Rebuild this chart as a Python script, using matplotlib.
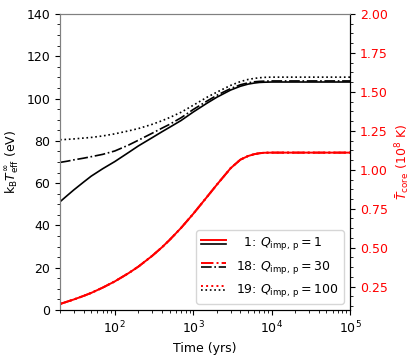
import matplotlib
matplotlib.use("Agg")
import matplotlib.pyplot as plt
from matplotlib.lines import Line2D
from matplotlib.legend_handler import HandlerBase
from matplotlib.ticker import AutoMinorLocator

# ---- data ----
time_yrs = [20, 25, 30, 40, 50, 70, 100, 150, 200, 300, 400, 500, 700, 1000,
            1500, 2000, 3000, 4000, 5000, 6000, 7000, 8000, 10000, 100000]
teff_1 = [51.2, 54.3, 56.8, 60.5, 63.3, 66.8, 70.2, 74.5, 77.6, 81.5, 84.3, 86.4,
          89.6, 93.6, 97.8, 100.6, 104.0, 105.8, 106.8, 107.3, 107.6, 107.7, 107.8, 107.8]
teff_18 = [69.8, 70.4, 71.0, 71.8, 72.5, 73.6, 75.2, 78.0, 80.3, 83.6, 86.0, 87.8,
           90.9, 94.8, 98.8, 101.5, 104.7, 106.5, 107.4, 107.9, 108.1, 108.2, 108.3, 108.3]
teff_19 = [80.5, 80.7, 80.9, 81.3, 81.6, 82.3, 83.3, 84.7, 85.8, 87.8, 89.5, 91.0,
           93.5, 96.8, 100.6, 103.0, 106.2, 108.0, 109.0, 109.5, 109.8, 110.0, 110.1, 110.1]
tcore_1 = [0.139, 0.155, 0.168, 0.191, 0.210, 0.244, 0.284, 0.337, 0.379, 0.448, 0.503,
           0.550, 0.627, 0.717, 0.826, 0.904, 1.010, 1.065, 1.088, 1.100, 1.106, 1.109, 1.110, 1.110]
tcore_18 = [0.139, 0.155, 0.168, 0.191, 0.210, 0.244, 0.284, 0.337, 0.379, 0.448, 0.503,
            0.550, 0.627, 0.717, 0.826, 0.904, 1.010, 1.065, 1.088, 1.100, 1.106, 1.109, 1.110, 1.110]
tcore_19 = [0.139, 0.155, 0.168, 0.191, 0.210, 0.244, 0.284, 0.337, 0.379, 0.448, 0.503,
            0.550, 0.627, 0.717, 0.826, 0.904, 1.010, 1.065, 1.088, 1.100, 1.106, 1.109, 1.110, 1.110]
labels = ["\u20071: $Q_{\\rm imp,\\,p}=1$",
          "18: $Q_{\\rm imp,\\,p}=30$",
          "19: $Q_{\\rm imp,\\,p}=100$"]


class HandlerPair(HandlerBase):
    def create_artists(self, legend, orig_handle, xdescent, ydescent, width,
                       height, fontsize, trans):
        artists = []
        offs = [height * 0.5 + 1.4, height * 0.5 - 1.4]
        for h, y in zip(orig_handle, offs):
            l = Line2D([-xdescent, width - xdescent], [y - ydescent] * 2,
                       color=h.get_color(), linestyle=h.get_linestyle(),
                       linewidth=h.get_linewidth())
            l.set_transform(trans)
            artists.append(l)
        return artists


fs = 9
fig = plt.figure(figsize=(4.15, 3.56), dpi=100)
ax = fig.add_axes([0.1446, 0.129, 0.8434 - 0.1446, 0.961 - 0.129])
ax2 = ax.twinx()

b1, = ax.plot(time_yrs, teff_1, color="black", ls="-", lw=1.2)
b18, = ax.plot(time_yrs, teff_18, color="black", ls="-.", lw=1.2)
b19, = ax.plot(time_yrs, teff_19, color="black", ls=":", lw=1.2)

r1, = ax2.plot(time_yrs, tcore_1, color="red", ls="-", lw=1.4)
r18, = ax2.plot(time_yrs, tcore_18, color="red", ls="-.", lw=1.4)
r19, = ax2.plot(time_yrs, tcore_19, color="red", ls=":", lw=1.4)

ax.set_xscale("log")
ax.set_xlim(20, 1e5)
ax.set_ylim(0, 140)
ax2.set_ylim(0.1, 2.0)
ax2.set_yticks([0.25, 0.5, 0.75, 1.0, 1.25, 1.5, 1.75, 2.0])
ax.yaxis.set_minor_locator(AutoMinorLocator(4))
ax2.yaxis.set_minor_locator(AutoMinorLocator(4))

ax.tick_params(labelsize=fs)
ax2.tick_params(labelsize=fs, colors="red", which="both")
ax2.tick_params(axis="y", which="both", color="black")

ax.set_xlabel("Time (yrs)", fontsize=fs)
ax.set_ylabel("k$_{\\rm B}T_{\\rm eff}^{\\infty}$ (eV)", fontsize=fs)
ax2.set_ylabel("$\\bar{T}_{\\rm core}$ (10$^8$ K)", fontsize=fs, color="red")

for a in (ax, ax2):
    a.spines["top"].set_color("gray")
    a.spines["left"].set_color("gray")

ax2.legend(handles=[(r1, b1), (r18, b18), (r19, b19)], labels=labels,
           handler_map={tuple: HandlerPair()}, loc="lower right", fontsize=fs)

fig.savefig("out.png", dpi=100)
